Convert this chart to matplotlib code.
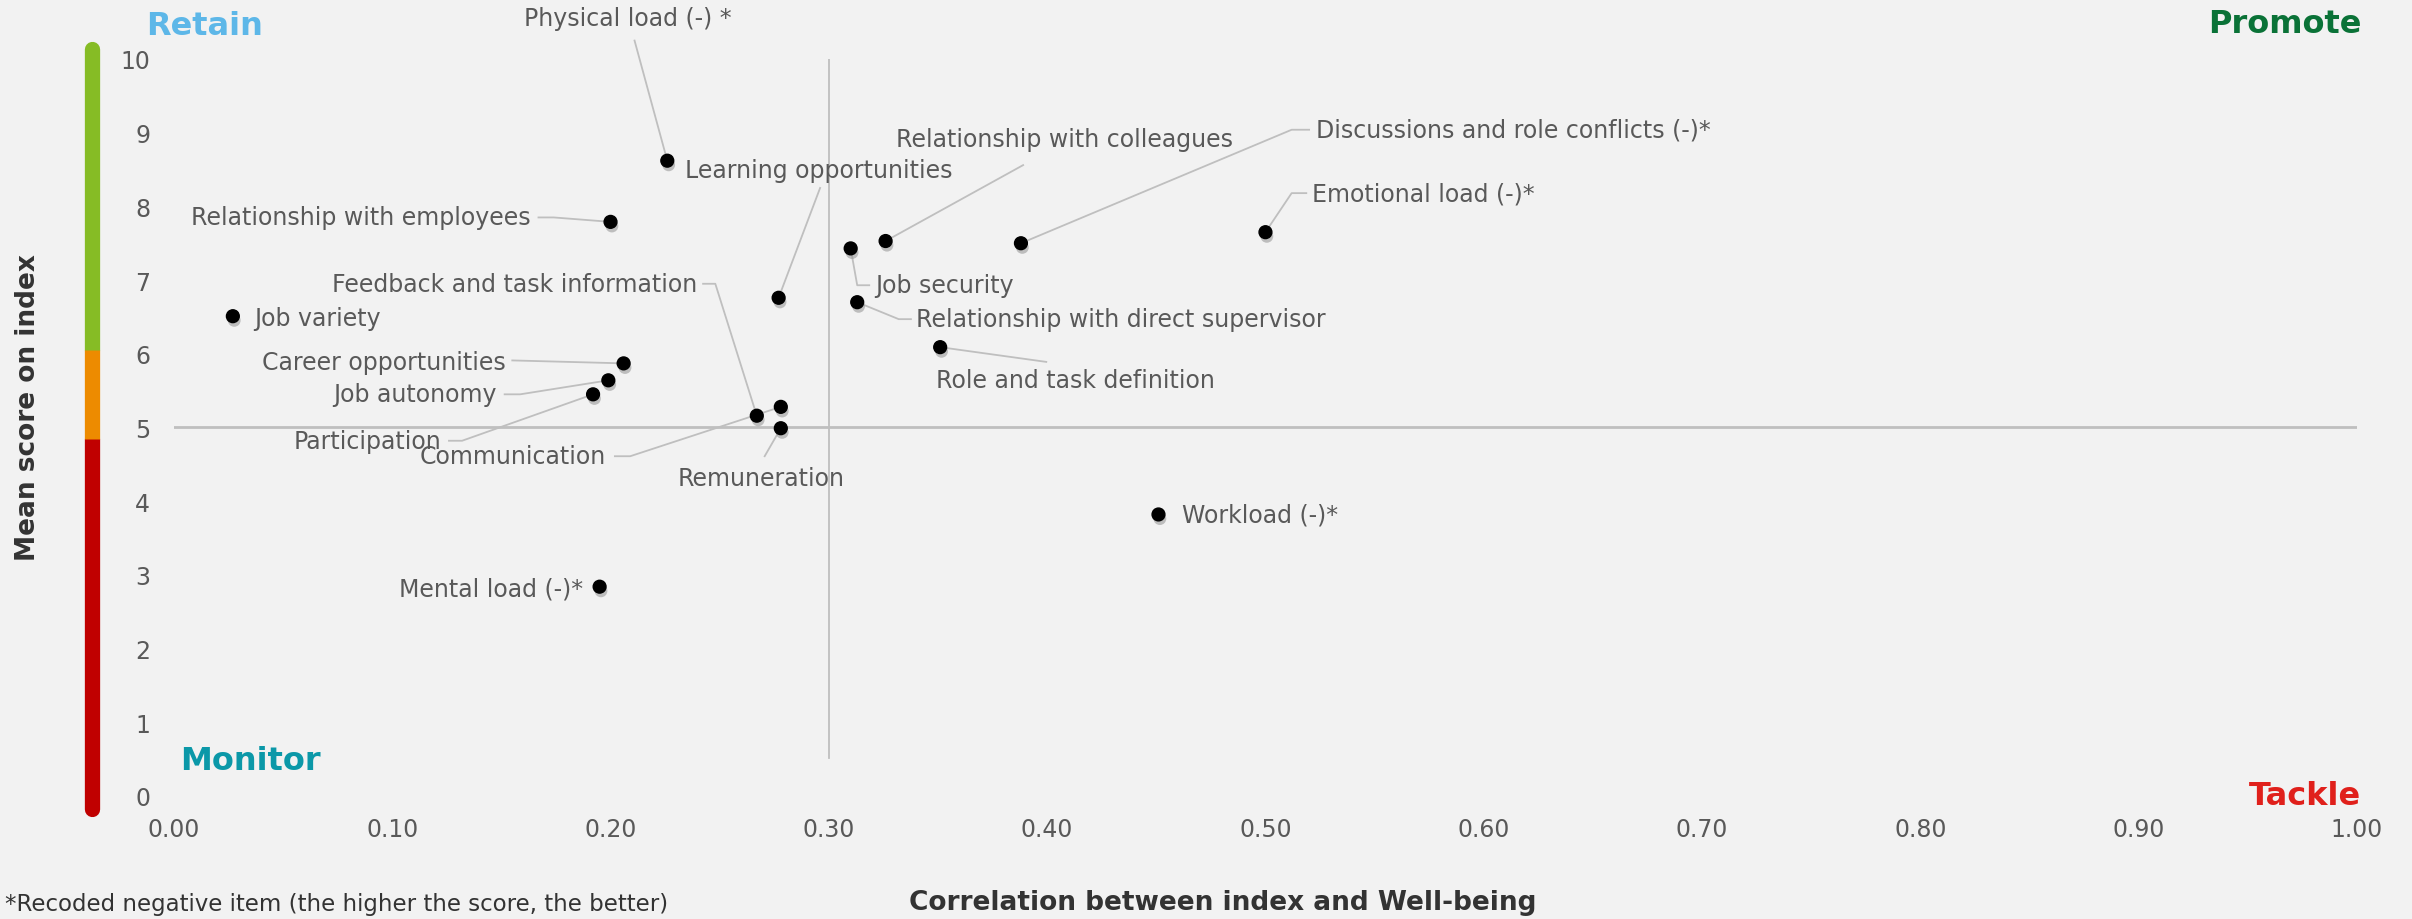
import matplotlib
matplotlib.use("Agg")
import matplotlib.pyplot as plt
import matplotlib.transforms as mtransforms
import matplotlib.patheffects as pe

# --- data ---
items = [
    "Physical load (-) *", "Learning opportunities", "Relationship with employees",
    "Job variety", "Feedback and task information", "Career opportunities",
    "Job autonomy", "Participation", "Communication", "Remuneration",
    "Mental load (-)*", "Relationship with colleagues", "Job security",
    "Relationship with direct supervisor", "Role and task definition",
    "Discussions and role conflicts (-)*", "Emotional load (-)*", "Workload (-)*",
]
correlation = [0.226, 0.277, 0.200, 0.027, 0.267, 0.206, 0.199, 0.192, 0.278,
               0.278, 0.195, 0.326, 0.310, 0.313, 0.351, 0.388, 0.500, 0.451]
mean_score = [8.62, 6.76, 7.79, 6.51, 5.16, 5.87, 5.64, 5.45, 5.28,
              4.99, 2.84, 7.53, 7.43, 6.70, 6.09, 7.50, 7.65, 3.82]

x_ticks = [0.0, 0.1, 0.2, 0.3, 0.4, 0.5, 0.6, 0.7, 0.8, 0.9, 1.0]
y_ticks = list(range(0, 11))
x_split = 0.30
y_split = 5

# colour bar along the y axis: (low, high, colour)
score_bands = [(-0.17, 4.85, "#C00000"), (6.05, 10.13, "#86BC25"), (4.85, 6.05, "#ED8B00")]

# label layout: text position, alignment, leader elbow points (data coords)
label_layout = {
    "Physical load (-) *": ((0.208, 10.56), "center", [(0.211, 10.25)]),
    "Learning opportunities": ((0.234, 8.50), "left", [(0.296, 8.25)]),
    "Relationship with employees": ((0.1635, 7.85), "right", [(0.167, 7.85), (0.174, 7.85)]),
    "Job variety": ((0.0366, 6.49), "left", []),
    "Feedback and task information": ((0.2396, 6.95), "right", [(0.2424, 6.95), (0.248, 6.95)]),
    "Career opportunities": ((0.152, 5.89), "right", [(0.155, 5.91)]),
    "Job autonomy": ((0.148, 5.45), "right", [(0.1515, 5.45), (0.1586, 5.45)]),
    "Participation": ((0.1226, 4.82), "right", [(0.126, 4.82), (0.132, 4.82)]),
    "Communication": ((0.198, 4.61), "right", [(0.202, 4.61), (0.209, 4.61)]),
    "Remuneration": ((0.269, 4.32), "center", [(0.2706, 4.61)]),
    "Mental load (-)*": ((0.1875, 2.82), "right", []),
    "Relationship with colleagues": ((0.408, 8.91), "center", [(0.389, 8.56)]),
    "Job security": ((0.3214, 6.93), "left", [(0.3185, 6.93), (0.313, 6.93)]),
    "Relationship with direct supervisor": ((0.340, 6.47), "left", [(0.3376, 6.47), (0.332, 6.47)]),
    "Role and task definition": ((0.349, 5.64), "left", [(0.3996, 5.89)]),
    "Discussions and role conflicts (-)*": ((0.523, 9.04), "left", [(0.520, 9.04), (0.512, 9.04)]),
    "Emotional load (-)*": ((0.5215, 8.18), "left", [(0.5187, 8.18), (0.512, 8.18)]),
    "Workload (-)*": ((0.4616, 3.82), "left", []),
}

BG = "#F2F2F2"
TXT = "#595959"
LEADER = "#BFBFBF"

plt.rcParams["font.family"] = ["DejaVu Sans"]

fig = plt.figure(figsize=(24.12, 9.2), dpi=100, facecolor=BG)
ax = fig.add_axes([0.0721, 0.1337, 0.9051, 0.8011], facecolor=BG)
ax.set_xlim(0, 1)
ax.set_ylim(0, 10)
for s in ax.spines.values():
    s.set_visible(False)

ax.set_xticks(x_ticks)
ax.set_xticklabels([f"{v:.2f}" for v in x_ticks])
ax.set_yticks(y_ticks)
ax.tick_params(length=0, labelsize=17, labelcolor=TXT)
ax.tick_params(axis="x", pad=15)
ax.tick_params(axis="y", pad=17)

# quadrant split lines
ax.plot([0, 1], [y_split, y_split], color="#BFBFBF", lw=2, zorder=1)
ax.plot([x_split, x_split], [0.52, 10], color="#BFBFBF", lw=1.3, zorder=1)

# coloured score bar left of the axis
trans = mtransforms.blended_transform_factory(ax.transAxes, ax.transData)
for lo, hi, col in score_bands:
    cap = "butt" if col == "#ED8B00" else "round"
    ax.plot([-0.0376, -0.0376], [lo, hi], color=col, lw=11, transform=trans,
            solid_capstyle=cap, clip_on=False, zorder=3)

# points with soft shadow
ax.scatter(correlation, mean_score, s=85, color="black", zorder=5,
           path_effects=[pe.SimplePatchShadow(offset=(1, -3), shadow_rgbFace="#9a9a9a", alpha=0.6),
                         pe.Normal()])

# labels + leader lines
for name, xv, yv in zip(items, correlation, mean_score):
    (tx, ty), ha, elbows = label_layout[name]
    ax.text(tx, ty, name, ha=ha, va="center", fontsize=17, color=TXT, zorder=6,
            clip_on=False)
    if elbows:
        xs = [p[0] for p in elbows] + [xv]
        ys = [p[1] for p in elbows] + [yv]
        ax.plot(xs, ys, color=LEADER, lw=1.3, zorder=4, clip_on=False)

# quadrant names
fig.text(95 * 1.5383 / 2412, 1 - 17 * 1.5383 / 920, "Retain", color="#5DB7E8",
         fontsize=23, fontweight="bold", ha="left", va="center")
fig.text(1535 * 1.5383 / 2412, 1 - 16 * 1.5383 / 920, "Promote", color="#0A7237",
         fontsize=23, fontweight="bold", ha="right", va="center")
fig.text(117 * 1.5383 / 2412, 1 - 495 * 1.5383 / 920, "Monitor", color="#0B98A8",
         fontsize=23, fontweight="bold", ha="left", va="center")
fig.text(1535 * 1.5383 / 2412, 1 - 518 * 1.5383 / 920, "Tackle", color="#E0201B",
         fontsize=23, fontweight="bold", ha="right", va="center")

# axis titles
fig.text(18 * 1.5383 / 2412, 1 - 265 * 1.5383 / 920, "Mean score on index", rotation=90,
         ha="center", va="center", fontsize=19, fontweight="bold", color="#333333")
fig.text(795 * 1.5383 / 2412, 1 - 587 * 1.5383 / 920, "Correlation between index and Well-being",
         ha="center", va="center", fontsize=19, fontweight="bold", color="#333333")

# footnote along the bottom-left edge
fig.text(0.002, 0.004, "*Recoded negative item (the higher the score, the better)",
         ha="left", va="bottom", fontsize=16.5, color="#333333")

fig.savefig("out.png", dpi=100, facecolor=BG)
